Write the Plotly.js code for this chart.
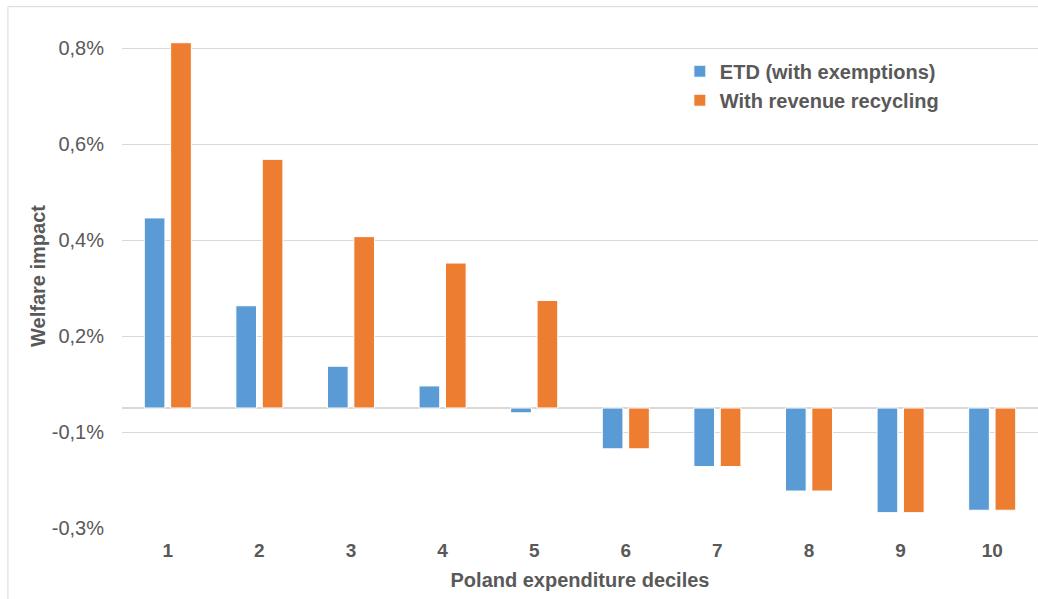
<!DOCTYPE html>
<html>
<head>
<meta charset="utf-8">
<script src="https://cdn.plot.ly/plotly-3.0.1.min.js"></script>
<style>html,body{margin:0;padding:0;background:#fff;}#chart{width:1038px;height:599px;}</style>
</head>
<body>
<div id="chart"></div>
<script>
// Data (values in %)
const deciles = ["1","2","3","4","5","6","7","8","9","10"];
const seriesNames = ["ETD (with exemptions)", "With revenue recycling"];
const etd = [0.396, 0.213, 0.087, 0.046, -0.010, -0.085, -0.122, -0.173, -0.218, -0.213];
const recycling = [0.761, 0.518, 0.357, 0.302, 0.224, -0.085, -0.122, -0.173, -0.218, -0.213];
const yTickVals = [-0.25, -0.05, 0.15, 0.35, 0.55, 0.75];
const yTickText = ["-0,3%", "-0,1%", "0,2%", "0,4%", "0,6%", "0,8%"];

const textColor = "#595959";
const font = "Liberation Sans, Arial, sans-serif";

const traces = [
  {type: "bar", name: seriesNames[0], x: deciles, y: etd,
   marker: {color: "#5B9BD5", line: {color: "#ffffff", width: 1}}, hoverinfo: "x+y"},
  {type: "bar", name: seriesNames[1], x: deciles, y: recycling,
   marker: {color: "#ED7D31", line: {color: "#ffffff", width: 1}}, hoverinfo: "x+y"}
];

const layout = {
  width: 1038, height: 599,
  margin: {l: 122, r: 0, t: 24.3, b: 71.3},
  paper_bgcolor: "#ffffff", plot_bgcolor: "#ffffff",
  barmode: "group", bargap: 0.424, bargroupgap: 0.216,
  font: {family: font, color: textColor},
  xaxis: {
    type: "category",
    tickfont: {size: 19, weight: "bold", color: textColor, family: font},
    showgrid: false, showline: false, ticks: "",
    ticklabelstandoff: 9,
    title: {text: "Poland expenditure deciles", font: {size: 20, weight: "bold", color: textColor, family: font}, standoff: 12},
    automargin: false
  },
  yaxis: {
    range: [-0.25, 0.8],
    tickvals: yTickVals, ticktext: yTickText,
    tickfont: {size: 20, color: textColor, family: font},
    showgrid: true, gridcolor: "#d9d9d9", gridwidth: 1,
    zeroline: true, zerolinecolor: "#d9d9d9", zerolinewidth: 1.5,
    showline: false, ticks: "",
    ticklabelstandoff: 17,
    title: {text: "Welfare impact", font: {size: 20, weight: "bold", color: textColor, family: font}, standoff: 0},
    automargin: false
  },
  legend: {
    x: 0.609, y: 0.945, xanchor: "left", yanchor: "top",
    font: {size: 20, weight: "bold", color: textColor, family: font},
    bgcolor: "rgba(0,0,0,0)", traceorder: "normal"
  },
  shapes: [
    {type: "rect", xref: "paper", yref: "paper", x0: -0.1245, x1: 1.05, y0: -0.3, y1: 1.0344,
     line: {color: "#d9d9d9", width: 1}, fillcolor: "rgba(0,0,0,0)", layer: "below"}
  ]
};

Plotly.newPlot("chart", traces, layout, {displayModeBar: false, responsive: false});
</script>
</body>
</html>
